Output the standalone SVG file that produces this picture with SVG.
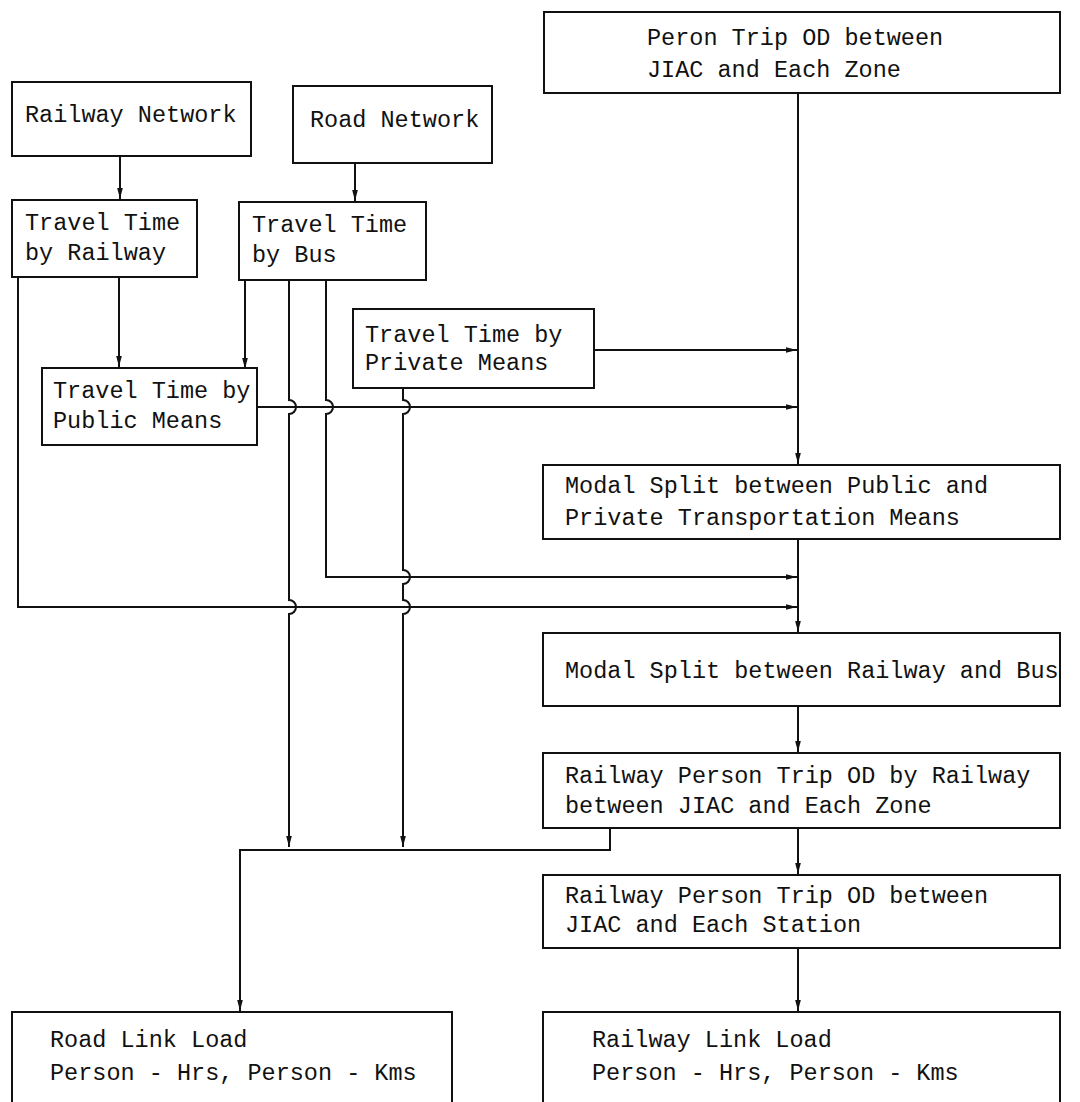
<svg xmlns="http://www.w3.org/2000/svg" width="1080" height="1102" viewBox="0 0 1080 1102">
<style>
.box{fill:#fff;stroke:#111;stroke-width:2}
.t{font-family:"Liberation Mono","Courier New",monospace;font-size:23.5px;fill:#111}
.c{fill:none;stroke:#111;stroke-width:2}
</style>
<defs>
<marker id="ar" markerUnits="userSpaceOnUse" markerWidth="12" markerHeight="8" refX="11" refY="4" orient="auto">
<path d="M0,1.2 L11,4 L0,6.8 z" fill="#111"/>
</marker>
</defs>
<rect width="1080" height="1102" fill="#fff"/>
<g id="connectors">
<path class="c" d="M120,156 V199" marker-end="url(#ar)"/>
<path class="c" d="M355,163 V201" marker-end="url(#ar)"/>
<path class="c" d="M798,93 V464" marker-end="url(#ar)"/>
<path class="c" d="M119,277 V367" marker-end="url(#ar)"/>
<path class="c" d="M245,280 V369" marker-end="url(#ar)"/>
<path class="c" d="M594,350 H797" marker-end="url(#ar)"/>
<path class="c" d="M257,407 H797" marker-end="url(#ar)"/>
<path class="c" d="M326,280 V400 A7 7 0 0 1 326,414 V577 H797" marker-end="url(#ar)"/>
<path class="c" d="M18,277 V607 H797" marker-end="url(#ar)"/>
<path class="c" d="M289,280 V400 A7 7 0 0 1 289,414 V600 A7 7 0 0 1 289,614 V847" marker-end="url(#ar)"/>
<path class="c" d="M403,388 V400 A7 7 0 0 1 403,414 V570 A7 7 0 0 1 403,584 V600 A7 7 0 0 1 403,614 V847" marker-end="url(#ar)"/>
<path class="c" d="M798,539 V632" marker-end="url(#ar)"/>
<path class="c" d="M798,706 V752" marker-end="url(#ar)"/>
<path class="c" d="M798,828 V874" marker-end="url(#ar)"/>
<path class="c" d="M798,948 V1011" marker-end="url(#ar)"/>
<path class="c" d="M610,828 V850 H240 V1011" marker-end="url(#ar)"/>
</g>
<g id="peron-trip-od">
<rect class="box" x="544" y="12" width="516" height="81"/>
<text class="t" x="647" y="45">Peron Trip OD between</text>
<text class="t" x="647" y="77">JIAC and Each Zone</text>
</g>
<g id="railway-network">
<rect class="box" x="12" y="82" width="239" height="74"/>
<text class="t" x="25" y="122">Railway Network</text>
</g>
<g id="road-network">
<rect class="box" x="293" y="86" width="199" height="77"/>
<text class="t" x="310" y="127">Road Network</text>
</g>
<g id="travel-time-railway">
<rect class="box" x="12" y="200" width="185" height="77"/>
<text class="t" x="25" y="230">Travel Time</text>
<text class="t" x="25" y="260">by Railway</text>
</g>
<g id="travel-time-bus">
<rect class="box" x="239" y="202" width="187" height="78"/>
<text class="t" x="252" y="232">Travel Time</text>
<text class="t" x="252" y="262">by Bus</text>
</g>
<g id="travel-time-private">
<rect class="box" x="353" y="309" width="241" height="79"/>
<text class="t" x="365" y="342">Travel Time by</text>
<text class="t" x="365" y="370">Private Means</text>
</g>
<g id="travel-time-public">
<rect class="box" x="42" y="368" width="215" height="77"/>
<text class="t" x="53" y="398">Travel Time by</text>
<text class="t" x="53" y="428">Public Means</text>
</g>
<g id="modal-split-public-private">
<rect class="box" x="543" y="465" width="517" height="74"/>
<text class="t" x="565" y="493">Modal Split between Public and</text>
<text class="t" x="565" y="525">Private Transportation Means</text>
</g>
<g id="modal-split-railway-bus">
<rect class="box" x="543" y="633" width="517" height="73"/>
<text class="t" x="565" y="678">Modal Split between Railway and Bus</text>
</g>
<g id="railway-trip-od-zone">
<rect class="box" x="543" y="753" width="517" height="75"/>
<text class="t" x="565" y="783">Railway Person Trip OD by Railway</text>
<text class="t" x="565" y="813">between JIAC and Each Zone</text>
</g>
<g id="railway-trip-od-station">
<rect class="box" x="543" y="875" width="517" height="73"/>
<text class="t" x="565" y="903">Railway Person Trip OD between</text>
<text class="t" x="565" y="932">JIAC and Each Station</text>
</g>
<g id="road-link-load">
<path class="box" d="M12,1110 V1012 H452 V1110"/>
<text class="t" x="50" y="1047">Road Link Load</text>
<text class="t" x="50" y="1080">Person - Hrs, Person - Kms</text>
</g>
<g id="railway-link-load">
<path class="box" d="M543,1110 V1012 H1060 V1110"/>
<text class="t" x="592" y="1047">Railway Link Load</text>
<text class="t" x="592" y="1080">Person - Hrs, Person - Kms</text>
</g>
</svg>
